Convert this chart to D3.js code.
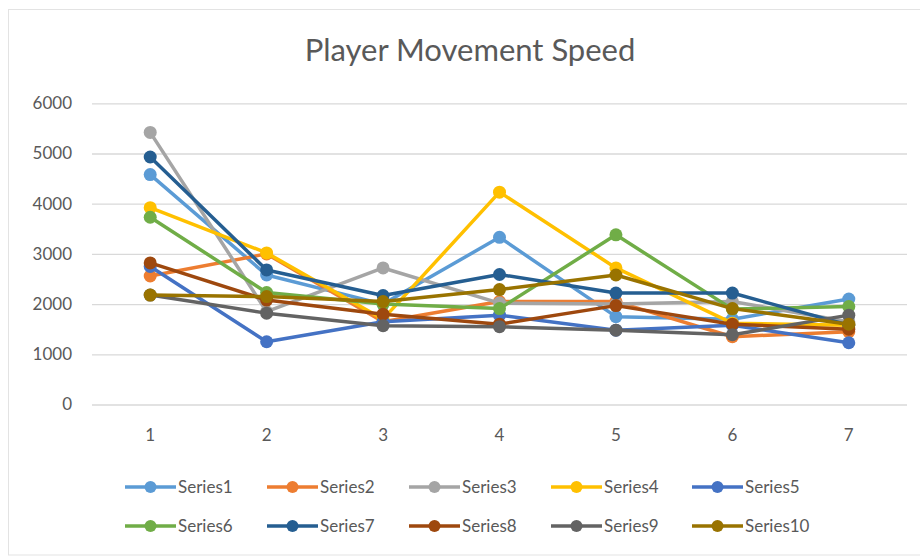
<!DOCTYPE html>
<html>
<head>
<meta charset="utf-8">
<script src="https://cdn.jsdelivr.net/npm/d3@7"></script>
<style>
  body { margin: 0; background: #fff; }
  text { font-family: Lato, "Open Sans", sans-serif; fill: #595959; }
</style>
</head>
<body>
<script>
// categories on the x axis
var categories = [1, 2, 3, 4, 5, 6, 7];
var yTicks = [0, 1000, 2000, 3000, 4000, 5000, 6000];

var seriesNames = ["Series1", "Series2", "Series3", "Series4", "Series5",
                   "Series6", "Series7", "Series8", "Series9", "Series10"];
var seriesColors = ["#5B9BD5", "#ED7D31", "#A5A5A5", "#FFC000", "#4472C4",
                    "#70AD47", "#255E91", "#9E480E", "#636363", "#997300"];

// values
var series1  = [4580, 2580, 2000, 3330, 1750, 1700, 2100];
var series2  = [2560, 3000, 1650, 2050, 2050, 1350, 1450];
var series3  = [5420, 1850, 2720, 2020, 2000, 2050, 1650];
var series4  = [3920, 3020, 1700, 4230, 2720, 1620, 1580];
var series5  = [2750, 1250, 1650, 1780, 1480, 1580, 1230];
var series6  = [3730, 2230, 2000, 1910, 3380, 1900, 1950];
var series7  = [4930, 2680, 2170, 2590, 2220, 2220, 1580];
var series8  = [2820, 2080, 1800, 1600, 1970, 1600, 1500];
var series9  = [2180, 1820, 1570, 1550, 1480, 1390, 1780];
var series10 = [2180, 2150, 2050, 2290, 2580, 1910, 1600];

var allSeries = [series1, series2, series3, series4, series5,
                 series6, series7, series8, series9, series10];

var W = 920, H = 558;
var svg = d3.select("body").append("svg").attr("width", W).attr("height", H);

// chart border
svg.append("rect").attr("x", 8.5).attr("y", 9.5).attr("width", 930).attr("height", 545.5)
  .attr("fill", "none").attr("stroke", "#e3e3e3");

var plotLeft = 92, plotRight = 907, plotTop = 103.3, plotBottom = 404.5;

var x = d3.scaleBand().domain(categories).range([plotLeft, plotRight]);
var y = d3.scaleLinear().domain([0, 6000]).range([plotBottom, plotTop]);

svg.append("text").attr("x", 470).attr("y", 61).attr("text-anchor", "middle")
  .style("font-size", "31px").text("Player Movement Speed");

// gridlines
var yAxis = d3.axisLeft(y).tickValues(yTicks).tickFormat(d3.format("d"))
  .tickSize(-(plotRight - plotLeft)).tickPadding(20);
var gy = svg.append("g").attr("transform", "translate(" + plotLeft + ",0)").call(yAxis);
gy.select(".domain").remove();
gy.selectAll(".tick line").attr("stroke", "#d9d9d9").attr("stroke-width", 1.3);
gy.selectAll(".tick text").style("font-size", "17px").attr("fill", "#595959")
  .style("font-family", "Lato, sans-serif");

var xAxis = d3.axisBottom(x).tickSize(0).tickPadding(24);
var gx = svg.append("g").attr("transform", "translate(0," + plotBottom + ")").call(xAxis);
gx.select(".domain").remove();
gx.selectAll(".tick text").style("font-size", "17px").attr("fill", "#595959")
  .style("font-family", "Lato, sans-serif");

var line = d3.line()
  .x(function(d, i) { return x(categories[i]) + x.bandwidth() / 2; })
  .y(function(d) { return y(d); });

allSeries.forEach(function(vals, k) {
  var g = svg.append("g");
  g.append("path").attr("d", line(vals)).attr("fill", "none")
    .attr("stroke", seriesColors[k]).attr("stroke-width", 3.5)
    .attr("stroke-linejoin", "round");
  g.selectAll("circle").data(vals).enter().append("circle")
    .attr("cx", function(d, i) { return x(categories[i]) + x.bandwidth() / 2; })
    .attr("cy", function(d) { return y(d); })
    .attr("r", 6.5)
    .attr("fill", seriesColors[k]);
});

// legend
var legX = [125, 267, 409, 551, 692];
var legY = [487, 526];
seriesNames.forEach(function(name, k) {
  var lx = legX[k % 5], ly = legY[Math.floor(k / 5)];
  var g = svg.append("g").attr("transform", "translate(" + lx + "," + ly + ")");
  g.append("line").attr("x1", 0).attr("x2", 51).attr("y1", 0).attr("y2", 0)
    .attr("stroke", seriesColors[k]).attr("stroke-width", 3.5);
  g.append("circle").attr("cx", 25.5).attr("cy", 0).attr("r", 6).attr("fill", seriesColors[k]);
  g.append("text").attr("x", 53).attr("y", 6).style("font-size", "17px").text(name);
});
</script>
</body>
</html>
